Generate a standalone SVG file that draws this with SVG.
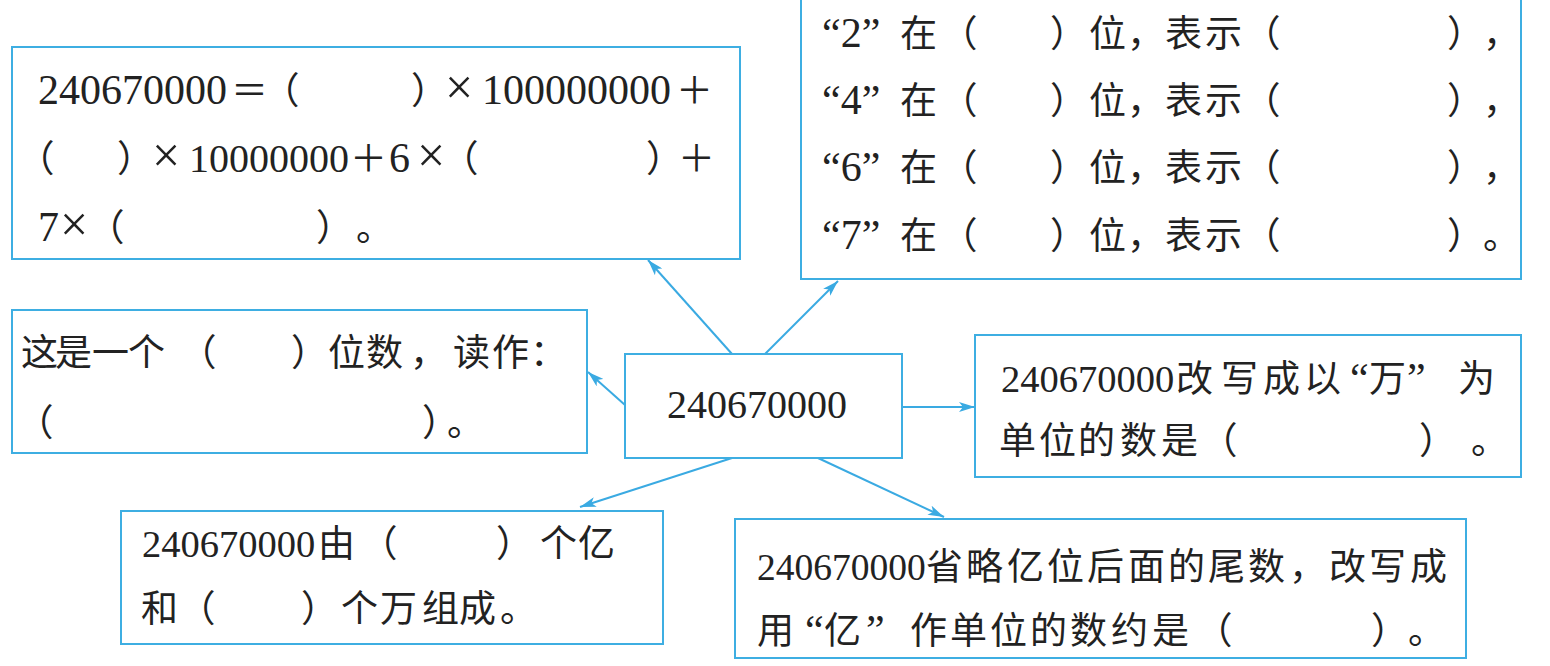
<svg xmlns="http://www.w3.org/2000/svg" width="1550" height="666" viewBox="0 0 1550 666">
<defs>
<style>
.box{fill:#ffffff;stroke:#3eaee2;stroke-width:2}
.t{font-family:"Liberation Serif","Noto Sans CJK SC",serif;font-size:37px;fill:#222222}
.c{font-family:"Noto Sans CJK SC",sans-serif;font-size:37px}
.p{font-family:"Noto Sans CJK SC",sans-serif;font-size:37px;font-feature-settings:"halt"}
.n{font-family:"Liberation Serif",serif}
.x{font-family:"Liberation Serif",serif;font-size:50px}
.q{font-family:"Liberation Serif",serif;font-size:42px}
.conn line{stroke:#3aaae2;stroke-width:2;marker-end:url(#ah)}
</style>
<marker id="ah" viewBox="0 0 16 10" refX="16" refY="5" markerWidth="16" markerHeight="10" orient="auto" markerUnits="userSpaceOnUse">
<path d="M0,0 L16,5 L0,10 L4,5 z" fill="#3aaae2"/>
</marker>
</defs>
<rect width="1550" height="666" fill="#ffffff"/>

<g id="connectors" class="conn">
<line x1="732" y1="354" x2="648" y2="260"/>
<line x1="765" y1="354" x2="838" y2="281"/>
<line x1="625" y1="405" x2="588" y2="372"/>
<line x1="902" y1="407" x2="975" y2="407"/>
<line x1="732" y1="458" x2="580" y2="507"/>
<line x1="818" y1="458" x2="944" y2="517"/>
</g>

<g id="node-expansion">
<rect class="box" x="12" y="47" width="728" height="212"/>
<text class="t" y="104"><tspan class="n" x="38" style="font-size:42px">240670000</tspan><tspan class="c" x="231">＝</tspan><tspan class="p" x="281">（</tspan><tspan class="p" x="411">）</tspan><tspan class="x" x="445">×</tspan><tspan class="n" x="482" style="font-size:42px">100000000</tspan><tspan class="c" x="676">＋</tspan></text>
<text class="t" y="172"><tspan class="p" x="36">（</tspan><tspan class="p" x="117">）</tspan><tspan class="x" x="152">×</tspan><tspan class="n" x="189" style="font-size:40px">10000000</tspan><tspan class="c" x="350">＋</tspan><tspan class="n" x="389" style="font-size:42px">6</tspan><tspan class="x" x="417">×</tspan><tspan class="p" x="460">（</tspan><tspan class="p" x="646">）</tspan><tspan class="c" x="678">＋</tspan></text>
<text class="t" y="241"><tspan class="n" x="38" style="font-size:42px">7</tspan><tspan class="x" x="60">×</tspan><tspan class="p" x="106">（</tspan><tspan class="p" x="316">）</tspan><tspan class="p" x="356">。</tspan></text>
</g>

<g id="node-digits">
<rect class="box" x="801" y="-2" width="720" height="281"/>
<text class="t" y="47"><tspan class="q" x="822">“2”</tspan><tspan class="c" x="900">在</tspan><tspan class="p" x="959">（</tspan><tspan class="p" x="1050">）</tspan><tspan class="c" x="1089">位</tspan><tspan class="p" x="1127">，</tspan><tspan class="c" x="1165 1205">表示</tspan><tspan class="p" x="1262">（</tspan><tspan class="p" x="1447">）</tspan><tspan class="p" x="1483">，</tspan></text>
<text class="t" y="114"><tspan class="q" x="822">“4”</tspan><tspan class="c" x="900">在</tspan><tspan class="p" x="959">（</tspan><tspan class="p" x="1050">）</tspan><tspan class="c" x="1089">位</tspan><tspan class="p" x="1127">，</tspan><tspan class="c" x="1165 1205">表示</tspan><tspan class="p" x="1262">（</tspan><tspan class="p" x="1447">）</tspan><tspan class="p" x="1483">，</tspan></text>
<text class="t" y="181"><tspan class="q" x="822">“6”</tspan><tspan class="c" x="900">在</tspan><tspan class="p" x="959">（</tspan><tspan class="p" x="1050">）</tspan><tspan class="c" x="1089">位</tspan><tspan class="p" x="1127">，</tspan><tspan class="c" x="1165 1205">表示</tspan><tspan class="p" x="1262">（</tspan><tspan class="p" x="1447">）</tspan><tspan class="p" x="1483">，</tspan></text>
<text class="t" y="249"><tspan class="q" x="822">“7”</tspan><tspan class="c" x="900">在</tspan><tspan class="p" x="959">（</tspan><tspan class="p" x="1050">）</tspan><tspan class="c" x="1089">位</tspan><tspan class="p" x="1127">，</tspan><tspan class="c" x="1165 1205">表示</tspan><tspan class="p" x="1262">（</tspan><tspan class="p" x="1447">）</tspan><tspan class="p" x="1483">。</tspan></text>
</g>

<g id="node-read">
<rect class="box" x="12" y="310" width="575" height="143"/>
<text class="t" y="366"><tspan class="c" x="21 55 92 128">这是一个</tspan><tspan class="p" x="198">（</tspan><tspan class="p" x="291">）</tspan><tspan class="c" x="328 366">位数</tspan><tspan class="p" x="410">，</tspan><tspan class="c" x="453 492">读作</tspan><tspan class="c" x="530">：</tspan></text>
<text class="t" y="436"><tspan class="p" x="35">（</tspan><tspan class="p" x="422">）</tspan><tspan class="p" x="447">。</tspan></text>
</g>

<g id="node-center">
<rect class="box" x="625" y="354" width="277" height="104"/>
<text class="t" y="418"><tspan class="n" x="667" style="font-size:40px">240670000</tspan></text>
</g>

<g id="node-wan">
<rect class="box" x="975" y="335" width="546" height="142"/>
<text class="t" y="392"><tspan class="n" x="1001" style="font-size:38.5px">240670000</tspan><tspan class="c" x="1176 1221 1263 1304">改写成以</tspan><tspan class="q" x="1350">“</tspan><tspan class="c" x="1369">万</tspan><tspan class="q" x="1407">”</tspan><tspan class="c" x="1458">为</tspan></text>
<text class="t" y="454"><tspan class="c" x="999 1039 1078 1120 1161">单位的数是</tspan><tspan class="p" x="1219">（</tspan><tspan class="p" x="1419">）</tspan><tspan class="p" x="1471">。</tspan></text>
</g>

<g id="node-compose">
<rect class="box" x="121" y="511" width="542" height="133"/>
<text class="t" y="557"><tspan class="n" x="142" style="font-size:38.5px">240670000</tspan><tspan class="c" x="318">由</tspan><tspan class="p" x="379">（</tspan><tspan class="p" x="496">）</tspan><tspan class="c" x="540 578">个亿</tspan></text>
<text class="t" y="622"><tspan class="c" x="141">和</tspan><tspan class="p" x="197">（</tspan><tspan class="p" x="301">）</tspan><tspan class="c" x="341 380 422 459">个万组成</tspan><tspan class="p" x="500">。</tspan></text>
</g>

<g id="node-approx">
<rect class="box" x="735" y="519" width="731" height="139"/>
<text class="t" y="580"><tspan class="n" x="757" style="font-size:37.5px">240670000</tspan><tspan class="c" x="926 966 1007 1047 1087 1128 1168 1208 1248">省略亿位后面的尾数</tspan><tspan class="p" x="1289">，</tspan><tspan class="c" x="1329 1369 1410">改写成</tspan></text>
<text class="t" y="644"><tspan class="c" x="757">用</tspan><tspan class="q" x="805">“</tspan><tspan class="c" x="824">亿</tspan><tspan class="q" x="866">”</tspan><tspan class="c" x="910 950 990 1030 1070 1111 1152">作单位的数约是</tspan><tspan class="p" x="1214">（</tspan><tspan class="p" x="1371">）</tspan><tspan class="p" x="1408">。</tspan></text>
</g>
</svg>
